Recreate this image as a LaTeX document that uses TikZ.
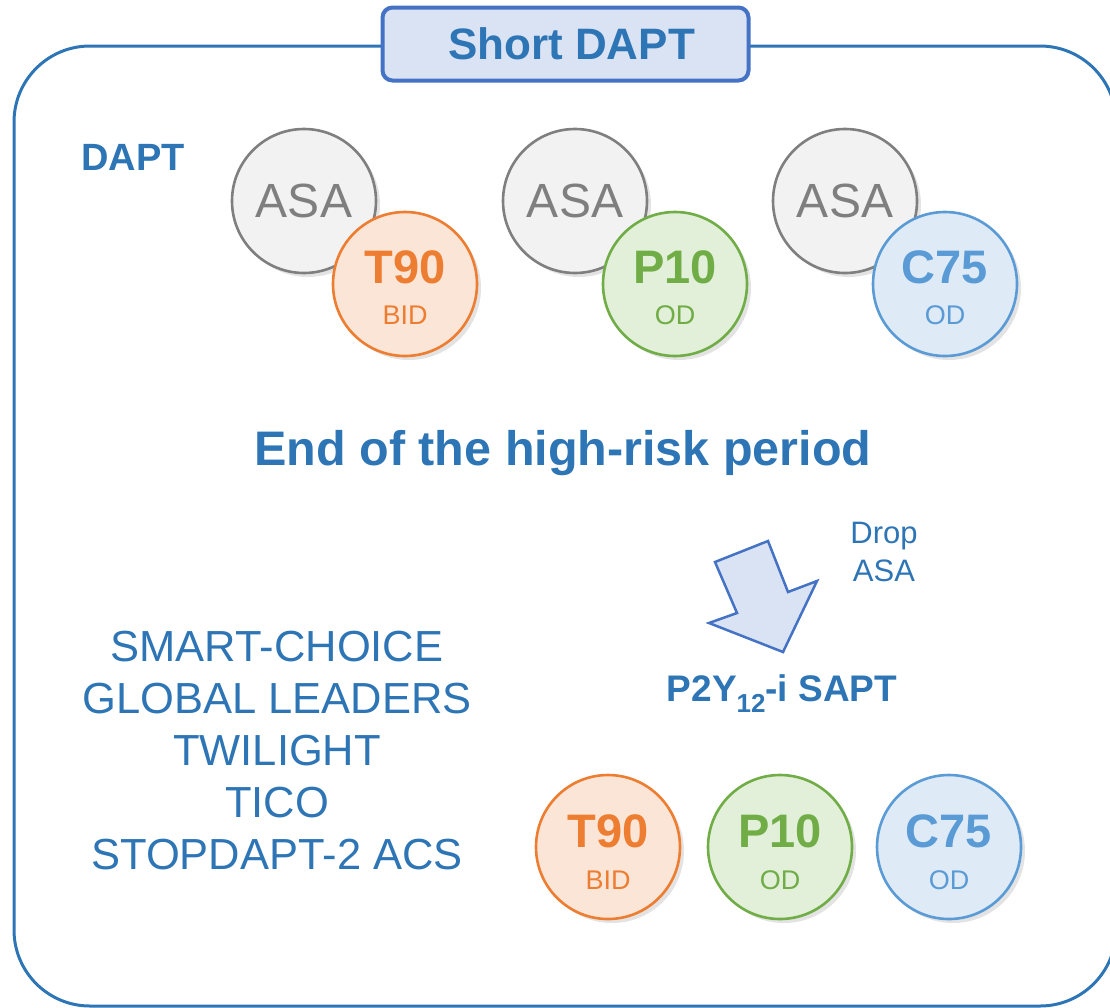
\documentclass[tikz,border=0pt]{standalone}
\usepackage{fontspec}
\setmainfont{Liberation Sans}
\usetikzlibrary{shadows}
\definecolor{tblue}{HTML}{2E75B6}
\definecolor{bborder}{HTML}{4472C4}
\definecolor{bfill}{HTML}{DAE3F3}
\definecolor{gborder}{HTML}{7F7F7F}
\definecolor{gfill}{HTML}{F2F2F2}
\definecolor{oborder}{HTML}{ED7D31}
\definecolor{ofill}{HTML}{FBE5D6}
\definecolor{grborder}{HTML}{70AD47}
\definecolor{grfill}{HTML}{E2F0D9}
\definecolor{lborder}{HTML}{5B9BD5}
\definecolor{lfill}{HTML}{DEEBF7}
\newcommand{\fs}[2]{\fontsize{#1}{#2}\selectfont}
\begin{document}
\begin{tikzpicture}[x=1pt,y=-1pt,
  pill/.style={circle, minimum size=144pt, inner sep=0pt, line width=2.6pt,
    drop shadow={shadow xshift=4pt, shadow yshift=-4pt, opacity=0.22}},
  asa/.style={pill, draw=gborder, fill=gfill},
  tic/.style={pill, draw=oborder, fill=ofill},
  pra/.style={pill, draw=grborder, fill=grfill},
  clo/.style={pill, draw=lborder, fill=lfill},
  big/.style={inner sep=0pt, font=\fs{47}{47}\bfseries},
  small/.style={inner sep=0pt, font=\fs{27}{27}},
  asatext/.style={inner sep=0pt, font=\fs{48}{48}, text=gborder},
  bluetext/.style={inner sep=0pt, text=tblue}
]
\useasboundingbox (0,0) rectangle (1110,1007);

% outer frame
\draw[tblue, line width=3pt, rounded corners=76pt] (14,46) rectangle (1116,1006);

% title
\node[draw=bborder, fill=bfill, line width=4pt, rounded corners=10pt,
      minimum width=366pt, minimum height=73pt, inner sep=0pt,
      text=tblue, font=\fs{44}{44}\bfseries] (title) at (565.5,44) {\hspace*{12pt}Short DAPT};

% DAPT label
\node[bluetext, font=\fs{38}{38}\bfseries] (dapt) at (133,157) {DAPT};

% top row
\node[asa] (a1) at (304,201) {};
\node[asatext] (a1t) at (a1.center) {ASA};
\node[tic] (t1) at (405,284) {};
\node[big, text=oborder, yshift=17pt] (t1a) at (t1.center) {T90};
\node[small, text=oborder, yshift=-31pt] (t1b) at (t1.center) {BID};

\node[asa] (a2) at (575,201) {};
\node[asatext] (a2t) at (a2.center) {ASA};
\node[pra] (p1) at (675,284) {};
\node[big, text=grborder, yshift=17pt] (p1a) at (p1.center) {P10};
\node[small, text=grborder, yshift=-31pt] (p1b) at (p1.center) {OD};

\node[asa] (a3) at (845,201) {};
\node[asatext] (a3t) at (a3.center) {ASA};
\node[clo] (c1) at (945,284) {};
\node[big, text=lborder, yshift=17pt] (c1a) at (c1.center) {C75};
\node[small, text=lborder, yshift=-31pt] (c1b) at (c1.center) {OD};

% middle heading
\node[bluetext, font=\fs{48.5}{48.5}\bfseries] (end) at (563,453) {End of the high-risk period};

% drop ASA
\node[bluetext, align=center, font=\fs{31}{38}] (drop) at (884,552) {Drop\\ASA};

% block arrow
\draw[draw=bborder, fill=bfill, line width=2.5pt, line join=miter]
  (715,562) -- (768,541) -- (788,592) -- (817,581) -- (783,652) -- (709,623) -- (737,613) -- cycle;

% P2Y12-i SAPT
\node[bluetext, font=\fs{37}{37}\bfseries] (sapt) at (782,694)
  {P2Y\raisebox{-0.3em}{\fs{26}{26}\bfseries 12}-i SAPT};

% trials list
\node[bluetext, align=center, font=\fs{43.5}{52}] (trials) at (277,751)
  {SMART-CHOICE\\GLOBAL LEADERS\\TWILIGHT\\TICO\\STOPDAPT-2 ACS};

% bottom row
\node[tic] (t2) at (608,847) {};
\node[big, text=oborder, yshift=16pt] (t2a) at (t2.center) {T90};
\node[small, text=oborder, yshift=-33pt] (t2b) at (t2.center) {BID};
\node[pra] (p2) at (780,847) {};
\node[big, text=grborder, yshift=16pt] (p2a) at (p2.center) {P10};
\node[small, text=grborder, yshift=-33pt] (p2b) at (p2.center) {OD};
\node[clo] (c2) at (949,847) {};
\node[big, text=lborder, yshift=16pt] (c2a) at (c2.center) {C75};
\node[small, text=lborder, yshift=-33pt] (c2b) at (c2.center) {OD};
\end{tikzpicture}
\end{document}
